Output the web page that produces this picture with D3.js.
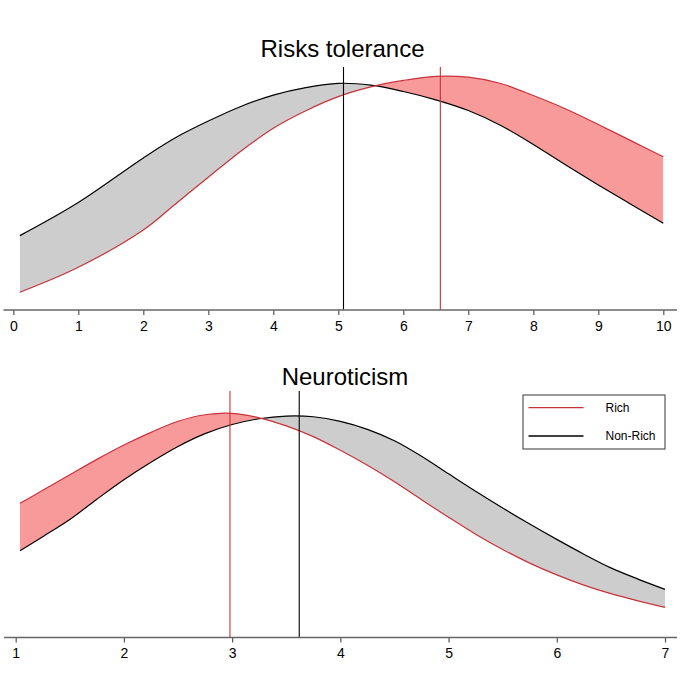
<!DOCTYPE html>
<html><head><meta charset="utf-8">
<script src="https://cdn.jsdelivr.net/npm/d3@7"></script>
<style>body{margin:0;background:#fff}svg{display:block}</style>
</head><body><svg id="c" width="680" height="680"></svg>
<script>
// ---- Panel 1: Risks tolerance ----
const riskX        = [0.1, 1, 2, 2.5, 3, 3.5, 4, 4.5, 5, 5.5, 6, 6.5, 7, 7.5, 8, 8.5, 9, 9.5, 10];
const riskRich     = [0.0175,0.0322,0.0541,0.0696,0.0852,0.1005,0.1140,0.1243,0.1326,0.1383,0.1421,0.1445,0.1440,0.1403,0.1332,0.1253,0.1162,0.1067,0.0972];
const riskNonRich  = [0.0508,0.0703,0.0965,0.1085,0.1182,0.1268,0.1335,0.1379,0.1404,0.1393,0.1356,0.1307,0.1244,0.1156,0.1044,0.0923,0.0806,0.0693,0.0581];
const riskMeans    = [6.57, 5.08];          // Rich, Non-Rich
const riskTicks    = [0,1,2,3,4,5,6,7,8,9,10];

// ---- Panel 2: Neuroticism ----
const neuroX       = [1.04,1.25,1.5,1.75,2,2.25,2.5,2.75,3,3.25,3.5,3.75,4,4.25,4.5,4.75,5,5.25,5.5,5.75,6,6.25,6.5,6.75,7];
const neuroRich    = [0.1684,0.1836,0.2018,0.2199,0.2367,0.2515,0.2645,0.2722,0.2738,0.2686,0.2591,0.2465,0.2305,0.2130,0.1937,0.1727,0.1520,0.1322,0.1143,0.0983,0.0845,0.0725,0.0625,0.0541,0.0465];
const neuroNonRich = [0.1129,0.1293,0.1494,0.1732,0.1960,0.2165,0.2350,0.2500,0.2607,0.2675,0.2706,0.2698,0.2645,0.2551,0.2417,0.2235,0.2029,0.1825,0.1629,0.1441,0.1261,0.1088,0.0927,0.0796,0.0676];
const neuroMeans   = [2.98, 3.62];          // Rich, Non-Rich
const neuroTicks   = [1,2,3,4,5,6,7];

const seriesNames  = ["Rich", "Non-Rich"];

const RED = "#c8323a", BLACK = "#000", PINK = "#f99a9a", GREY = "#cdcdcd";
const FONT = "Liberation Sans, Arial, sans-serif";
const svg = d3.select("#c");

function panel(cfg, id) {
  const g = svg.append("g");
  const x = d3.scaleLinear().domain(cfg.xDomain).range(cfg.xRange);
  const y = d3.scaleLinear().domain(cfg.yDomain).range(cfg.yRange);
  const data = cfg.xs.map((v, i) => ({x: v, r: cfg.rich[i], n: cfg.non[i]}));
  const curve = d3.curveCatmullRom.alpha(0.5);

  const defs = g.append("defs");
  defs.append("clipPath").attr("id", "above" + id).append("path")
    .attr("d", d3.area().curve(curve).x(d => x(d.x)).y0(cfg.top).y1(d => y(d.r))(data));
  defs.append("clipPath").attr("id", "below" + id).append("path")
    .attr("d", d3.area().curve(curve).x(d => x(d.x)).y0(d => y(d.r)).y1(cfg.axisY)(data));

  const between = d3.area().curve(curve).x(d => x(d.x)).y0(d => y(d.n)).y1(d => y(d.r));
  g.append("path").attr("d", between(data)).attr("fill", GREY).attr("clip-path", `url(#above${id})`);
  g.append("path").attr("d", between(data)).attr("fill", PINK).attr("clip-path", `url(#below${id})`);

  const line = key => d3.line().curve(curve).x(d => x(d.x)).y(d => y(d[key]));
  g.append("path").attr("d", line("n")(data)).attr("fill", "none").attr("stroke", BLACK).attr("stroke-width", 1.2);
  g.append("path").attr("d", line("r")(data)).attr("fill", "none").attr("stroke", RED).attr("stroke-width", 1.2);

  // mean lines
  const colors = [RED, BLACK];
  cfg.means.forEach((m, i) => {
    g.append("line").attr("x1", x(m)).attr("x2", x(m))
      .attr("y1", cfg.axisY).attr("y2", y(cfg.yDomain[1]))
      .attr("stroke", colors[i]).attr("stroke-width", 1.1);
  });

  // axis
  const ax = g.append("g").attr("transform", `translate(0,${cfg.axisY})`)
    .call(d3.axisBottom(x).tickValues(cfg.ticks).tickFormat(d3.format("d"))
      .tickSize(5).tickSizeOuter(0).tickPadding(6));
  ax.select(".domain").remove();
  ax.selectAll(".tick line").attr("stroke", "#555").attr("stroke-width", 1.2);
  ax.selectAll(".tick text").attr("font-family", FONT)
    .attr("font-size", 14).attr("fill", "#000");
  g.append("line").attr("x1", cfg.lineX[0]).attr("x2", cfg.lineX[1])
    .attr("y1", cfg.axisY).attr("y2", cfg.axisY).attr("stroke", "#666").attr("stroke-width", 1.6);

  g.append("text").attr("x", cfg.titleX).attr("y", cfg.titleY).attr("text-anchor", "middle")
    .attr("font-family", FONT).attr("font-size", 24)
    .attr("fill", "#000").text(cfg.title);
}

panel({
  title: "Risks tolerance", titleX: 342.5, titleY: 57,
  xs: riskX, rich: riskRich, non: riskNonRich, means: riskMeans, ticks: riskTicks,
  xDomain: [0, 10], xRange: [13.3, 663.3],
  yDomain: [0, 0.15], yRange: [322, 67],
  top: 60, axisY: 310, lineX: [3.5, 677]
}, 1);

panel({
  title: "Neuroticism", titleX: 345, titleY: 385,
  xs: neuroX, rich: neuroRich, non: neuroNonRich, means: neuroMeans, ticks: neuroTicks,
  xDomain: [1, 7], xRange: [15.7, 665],
  yDomain: [0, 0.3], yRange: [647, 391],
  top: 385, axisY: 637.5, lineX: [4, 677]
}, 2);

// legend
const lg = svg.append("g").attr("transform", "translate(523,395)");
lg.append("rect").attr("width", 142).attr("height", 54).attr("fill", "#fff")
  .attr("stroke", "#555").attr("stroke-width", 1.2);
seriesNames.forEach((name, i) => {
  const yy = 12.7 + i * 28.3;
  lg.append("line").attr("x1", 5.5).attr("x2", 60.5).attr("y1", yy).attr("y2", yy)
    .attr("stroke", i === 0 ? RED : BLACK).attr("stroke-width", 1.3);
  lg.append("text").attr("x", 82.5).attr("y", yy).attr("dy", "0.35em")
    .attr("font-family", FONT).attr("font-size", 12)
    .attr("fill", "#000").text(name);
});
</script>
</body></html>
